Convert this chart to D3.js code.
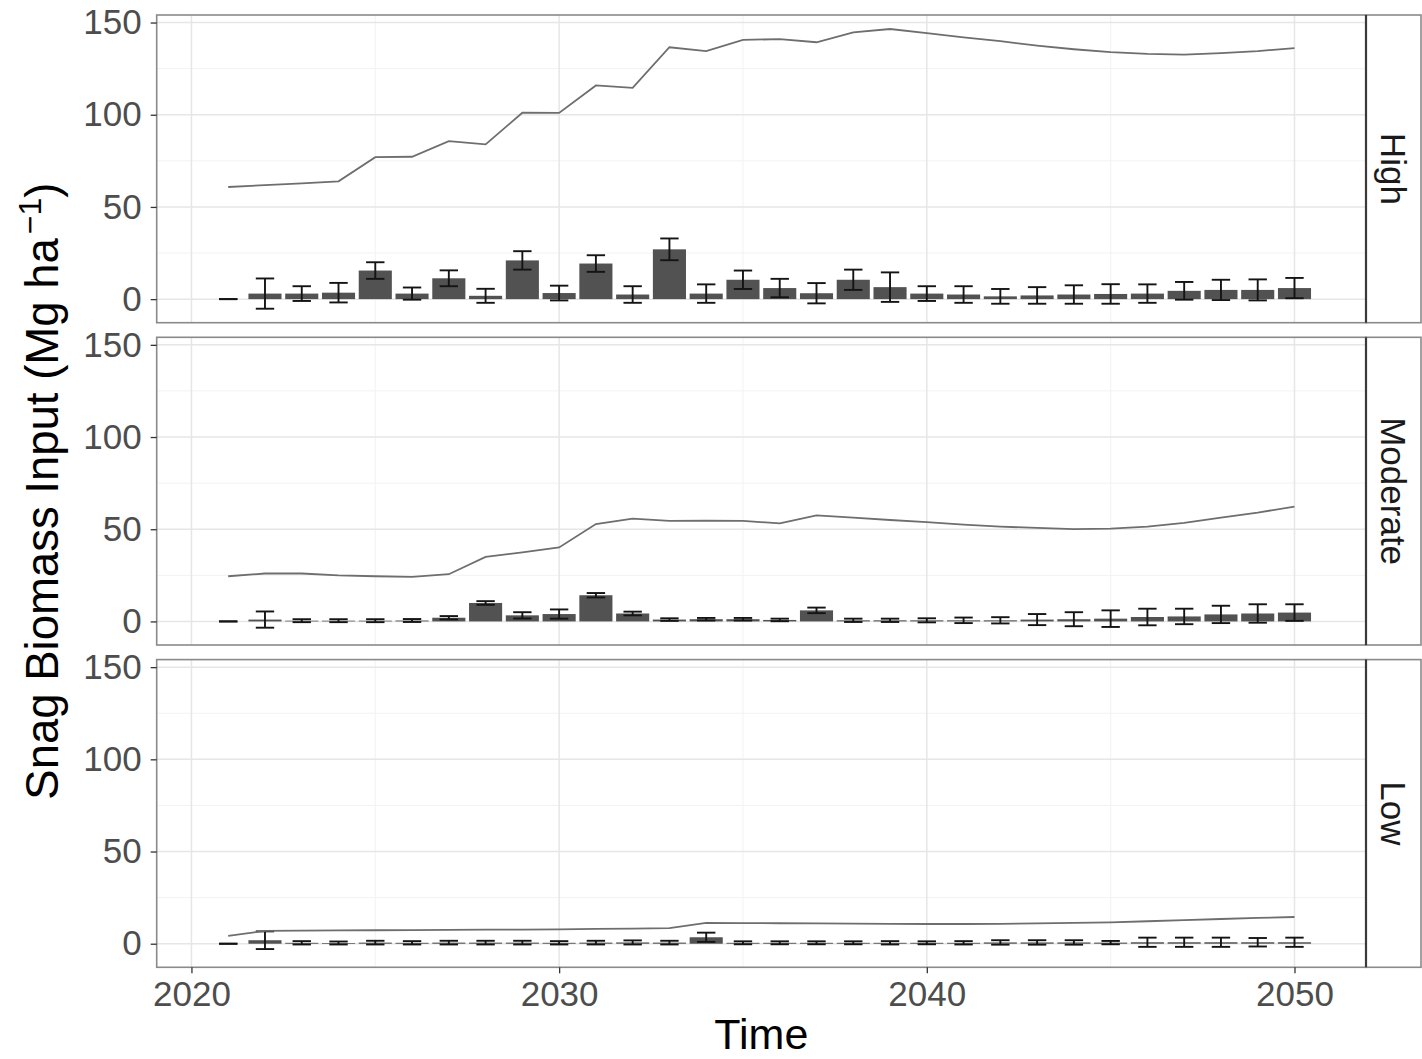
<!DOCTYPE html>
<html>
<head>
<meta charset="utf-8">
<script src="https://cdn.jsdelivr.net/npm/d3@7"></script>
<style>
  html, body { margin: 0; padding: 0; background: #ffffff; }
  svg { display: block; font-family: "Liberation Sans", Arial, Helvetica, sans-serif; }
</style>
</head>
<body>
<svg id="chart" width="1422" height="1059"></svg>
<script>
// Simulation years
const years = [2021, 2022, 2023, 2024, 2025, 2026, 2027, 2028, 2029, 2030,
               2031, 2032, 2033, 2034, 2035, 2036, 2037, 2038, 2039, 2040,
               2041, 2042, 2043, 2044, 2045, 2046, 2047, 2048, 2049, 2050];

// Facet labels (severity scenarios)
const scenarios = ["High", "Moderate", "Low"];

// Cumulative snag biomass (line), Mg/ha
const highCumulative = [60.8, 61.8, 62.8, 63.9, 77.0, 77.2, 85.7, 83.9, 101.1, 101.0,
                        115.9, 114.6, 136.6, 134.5, 140.6, 141.0, 139.3, 144.7, 146.5, 144.2,
                        142.0, 139.9, 137.5, 135.5, 133.9, 133.0, 132.6, 133.4, 134.5, 136.1];
const moderateCumulative = [24.5, 26.0, 26.0, 25.0, 24.5, 24.2, 25.6, 35.0, 37.4, 40.1,
                            52.8, 55.7, 54.5, 54.6, 54.5, 53.2, 57.5, 56.3, 55.0, 53.8,
                            52.5, 51.4, 50.7, 50.1, 50.3, 51.4, 53.5, 56.3, 59.0, 62.3];
const lowCumulative = [4.2, 7.0, 7.1, 7.2, 7.3, 7.4, 7.5, 7.6, 7.7, 7.8,
                       8.0, 8.2, 8.5, 11.3, 11.2, 11.1, 11.0, 10.9, 10.8, 10.7,
                       10.7, 10.8, 11.0, 11.3, 11.6, 12.2, 12.8, 13.4, 14.0, 14.5];

// Annual snag biomass input (bars) and its standard error
const highInput = [0, 3.0, 3.0, 3.5, 15.5, 3.0, 11.3, 1.8, 21.0, 3.3,
                   19.3, 2.5, 27.0, 3.0, 10.5, 6.0, 3.2, 10.5, 6.5, 3.0,
                   2.5, 1.5, 2.0, 2.5, 2.8, 3.0, 4.5, 5.0, 5.0, 6.0];
const highSE = [0, 8.2, 4.0, 5.3, 4.5, 3.3, 4.3, 3.8, 5.0, 4.0,
                4.5, 4.5, 5.9, 5.0, 5.0, 5.0, 5.5, 5.5, 8.0, 4.0,
                4.5, 4.0, 4.5, 5.0, 5.3, 5.0, 4.8, 5.5, 5.7, 5.5];
const moderateInput = [0, 1.0, 0.4, 0.4, 0.4, 0.5, 2.0, 10.0, 3.3, 4.0,
                       14.2, 4.3, 1.0, 1.2, 1.2, 0.8, 6.0, 0.6, 0.6, 0.6,
                       0.6, 0.6, 1.0, 1.2, 1.5, 2.4, 2.7, 3.8, 4.3, 4.8];
const moderateSE = [0, 4.4, 0.8, 0.8, 0.8, 0.8, 0.9, 1.0, 1.7, 2.5,
                    1.2, 1.0, 0.7, 0.7, 0.7, 0.7, 1.5, 0.9, 0.9, 1.1,
                    1.5, 1.7, 3.0, 3.8, 4.5, 4.5, 4.2, 4.7, 5.0, 4.5];
const lowInput = [0, 1.9, 0.5, 0.4, 0.6, 0.5, 0.6, 0.6, 0.6, 0.5,
                  0.6, 0.7, 0.6, 3.5, 0.5, 0.5, 0.5, 0.5, 0.5, 0.5,
                  0.5, 0.7, 0.7, 0.7, 0.6, 0.8, 0.8, 0.8, 0.8, 0.8];
const lowSE = [0, 4.8, 0.9, 0.8, 1.0, 0.9, 1.0, 1.0, 1.0, 0.9,
               1.0, 1.1, 1.0, 2.5, 0.8, 0.8, 0.8, 0.8, 0.9, 0.8,
               0.9, 1.2, 1.2, 1.2, 0.9, 2.5, 2.5, 2.5, 2.3, 2.5];

// Axis ticks
const xTicks = [2020, 2030, 2040, 2050];
const xMinor = [2025, 2035, 2045];
const yTicks = [0, 50, 100, 150];
const yMinor = [25, 75, 125];

// Assemble facets
const lines = [highCumulative, moderateCumulative, lowCumulative];
const inputs = [highInput, moderateInput, lowInput];
const ses = [highSE, moderateSE, lowSE];
const facets = scenarios.map((name, i) => ({
  name,
  rows: years.map((y, j) => ({ year: y, total: lines[i][j], mean: inputs[i][j], se: ses[i][j] }))
}));

// Layout
const W = 1422, H = 1059;
const panelL = 156.7, panelR = 1366, stripR = 1421;
const panelTop0 = 15, panelH = 307.7, panelGap = 14.6;
const barW = 0.9, capW = 0.5;

const svg = d3.select("#chart");
svg.append("rect").attr("width", W).attr("height", H).attr("fill", "#ffffff");

// Shared scales with ggplot-style 5% expansion
const xLo = d3.min(years) - barW / 2, xHi = d3.max(years) + barW / 2;
const xPad = (xHi - xLo) * 0.05;
const x = d3.scaleLinear().domain([xLo - xPad, xHi + xPad]).range([panelL, panelR]);

const allRows = facets.flatMap(f => f.rows);
const yLo = d3.min(allRows, d => Math.min(d.mean - d.se, d.total, 0));
const yHi = d3.max(allRows, d => Math.max(d.mean + d.se, d.total));
const yPad = (yHi - yLo) * 0.05;

const axisFont = 35;
const textGrey = "#4d4d4d";

facets.forEach((f, i) => {
  const top = panelTop0 + i * (panelH + panelGap);
  const bottom = top + panelH;
  const y = d3.scaleLinear().domain([yLo - yPad, yHi + yPad]).range([bottom, top]);
  const g = svg.append("g");

  // panel background
  g.append("rect").attr("x", panelL).attr("y", top)
    .attr("width", panelR - panelL).attr("height", panelH).attr("fill", "#ffffff");

  // minor grid
  g.selectAll(".ym").data(yMinor).join("line")
    .attr("x1", panelL).attr("x2", panelR)
    .attr("y1", d => y(d)).attr("y2", d => y(d))
    .attr("stroke", "#f2f2f2").attr("stroke-width", 1);
  g.selectAll(".xm").data(xMinor).join("line")
    .attr("y1", top).attr("y2", bottom)
    .attr("x1", d => x(d)).attr("x2", d => x(d))
    .attr("stroke", "#f2f2f2").attr("stroke-width", 1);
  // major grid
  g.selectAll(".yM").data(yTicks).join("line")
    .attr("x1", panelL).attr("x2", panelR)
    .attr("y1", d => y(d)).attr("y2", d => y(d))
    .attr("stroke", "#e6e6e6").attr("stroke-width", 1.5);
  g.selectAll(".xM").data(xTicks).join("line")
    .attr("y1", top).attr("y2", bottom)
    .attr("x1", d => x(d)).attr("x2", d => x(d))
    .attr("stroke", "#e6e6e6").attr("stroke-width", 1.5);

  // annual input bars
  g.selectAll(".bar").data(f.rows).join("rect")
    .attr("x", d => x(d.year - barW / 2))
    .attr("width", d => x(d.year + barW / 2) - x(d.year - barW / 2))
    .attr("y", d => Math.min(y(d.mean), y(0)))
    .attr("height", d => Math.abs(y(0) - y(d.mean)))
    .attr("fill", "#525252");

  // error bars
  const eb = g.selectAll(".eb").data(f.rows).join("g").attr("stroke", "#141414").attr("stroke-width", 1.9);
  eb.append("line")
    .attr("x1", d => x(d.year)).attr("x2", d => x(d.year))
    .attr("y1", d => y(d.mean - d.se)).attr("y2", d => y(d.mean + d.se));
  eb.append("line")
    .attr("x1", d => x(d.year - capW / 2)).attr("x2", d => x(d.year + capW / 2))
    .attr("y1", d => y(d.mean + d.se)).attr("y2", d => y(d.mean + d.se));
  eb.append("line")
    .attr("x1", d => x(d.year - capW / 2)).attr("x2", d => x(d.year + capW / 2))
    .attr("y1", d => y(d.mean - d.se)).attr("y2", d => y(d.mean - d.se));

  // cumulative line
  g.append("path").datum(f.rows)
    .attr("fill", "none").attr("stroke", "#6e6e6e").attr("stroke-width", 1.8)
    .attr("d", d3.line().x(d => x(d.year)).y(d => y(d.total)));

  // panel border
  g.append("rect").attr("x", panelL).attr("y", top)
    .attr("width", panelR - panelL).attr("height", panelH)
    .attr("fill", "none").attr("stroke", "#8a8a8a").attr("stroke-width", 1.6);

  // y axis
  const yAxis = d3.axisLeft(y).tickValues(yTicks).tickSize(6).tickPadding(9).tickFormat(d3.format("d"));
  const ya = g.append("g").attr("transform", `translate(${panelL},0)`).call(yAxis);
  ya.select(".domain").remove();
  ya.selectAll(".tick line").attr("stroke", "#333333").attr("stroke-width", 1.3);
  ya.selectAll(".tick text").attr("fill", textGrey).attr("font-size", axisFont)
    .attr("font-family", "Liberation Sans, Arial, sans-serif");

  // strip
  g.append("rect").attr("x", panelR).attr("y", top)
    .attr("width", stripR - panelR).attr("height", panelH)
    .attr("fill", "#ffffff").attr("stroke", "#8a8a8a").attr("stroke-width", 1.6);
  g.append("line").attr("x1", panelR).attr("x2", panelR).attr("y1", top).attr("y2", bottom)
    .attr("stroke", "#3a3a3a").attr("stroke-width", 2.2);
  g.append("text")
    .attr("transform", `translate(${(panelR + stripR) / 2 - 13},${top + panelH / 2}) rotate(90)`)
    .attr("text-anchor", "middle")
    .attr("font-size", axisFont).attr("fill", "#1a1a1a")
    .text(f.name);

  // x axis only under the last panel
  if (i === facets.length - 1) {
    const xAxis = d3.axisBottom(x).tickValues(xTicks).tickSize(6).tickPadding(8).tickFormat(d3.format("d"));
    const xa = g.append("g").attr("transform", `translate(0,${bottom})`).call(xAxis);
    xa.select(".domain").remove();
    xa.selectAll(".tick line").attr("stroke", "#333333").attr("stroke-width", 1.3);
    xa.selectAll(".tick text").attr("fill", textGrey).attr("font-size", axisFont)
      .attr("font-family", "Liberation Sans, Arial, sans-serif");
  }
});

// Axis titles
svg.append("text")
  .attr("x", (panelL + panelR) / 2).attr("y", 1049)
  .attr("text-anchor", "middle").attr("font-size", 43).attr("fill", "#000000")
  .text("Time");

const yTitle = svg.append("text")
  .attr("transform", `translate(58,${panelTop0 + (3 * panelH + 2 * panelGap) / 2}) rotate(-90)`)
  .attr("text-anchor", "middle").attr("font-size", 45.5).attr("fill", "#000000");
yTitle.append("tspan").text("Snag Biomass Input (Mg ha");
yTitle.append("tspan").attr("dy", -17).attr("dx", 4).attr("font-size", 32).text("\u22121");
yTitle.append("tspan").attr("dy", 17).text(")");
</script>
</body>
</html>
